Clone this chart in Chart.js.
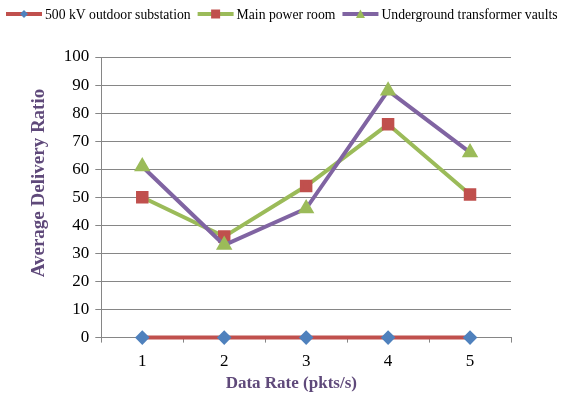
<!DOCTYPE html>
<html><head><meta charset="utf-8">
<script src="https://cdn.jsdelivr.net/npm/chart.js@4.4.1/dist/chart.umd.min.js"></script>
<style>html,body{margin:0;padding:0;background:#fff;}#wrap{width:561px;height:403px;}</style>
</head><body><div id="wrap"><canvas id="c" width="561" height="403"></canvas></div>
<script>
const categories = ['1','2','3','4','5'];
const seriesNames = ['500 kV outdoor substation','Main power room','Underground transformer vaults'];
const outdoor = [0,0,0,0,0];
const mainRoom = [50,36,54,76,51];
const underground = [61,33,46,88,66];
const yTicks = [0,10,20,30,40,50,60,70,80,90,100];
const xTitle = 'Data Rate (pkts/s)';
const yTitle = 'Average Delivery Ratio';

const red='#C0504D', blue='#4F81BD', green='#9BBB59', purple='#8064A2';
const markerShapes=['diamond','square','triangle'];

const legendPlugin={
  id:'excelLegend',
  afterDraw(chart){
    const g=chart.ctx;
    g.save();
    g.font='13.7px "Liberation Serif"';
    g.textBaseline='middle';
    g.fillStyle='#000';
    let x=6; const y=14;
    chart.data.datasets.forEach((d,i)=>{
      const lw=36;
      g.strokeStyle=d.borderColor; g.lineWidth=4;
      g.beginPath(); g.moveTo(x,y); g.lineTo(x+lw,y); g.stroke();
      const cx=x+lw/2;
      g.fillStyle=d.pointBackgroundColor;
      g.beginPath();
      const s=markerShapes[i];
      if(s==='diamond'){g.moveTo(cx,y-4);g.lineTo(cx+4,y);g.lineTo(cx,y+4);g.lineTo(cx-4,y);g.closePath();}
      else if(s==='square'){g.rect(cx-4.5,y-4.5,9,9);}
      else {g.moveTo(cx,y-4.5);g.lineTo(cx+4.5,y+4);g.lineTo(cx-4.5,y+4);g.closePath();}
      g.fill();
      g.fillStyle='#000';
      g.fillText(d.label,x+lw+3,y+1);
      x+=lw+3+g.measureText(d.label).width+7;
    });
    g.restore();
  }
};

new Chart(document.getElementById('c'),{
  type:'line',
  data:{labels:categories,datasets:[
    {label:seriesNames[0],data:outdoor,borderColor:red,backgroundColor:blue,pointBackgroundColor:blue,pointBorderColor:blue,pointStyle:'rectRot',pointRadius:4.5,borderWidth:4,order:1,clip:false},
    {label:seriesNames[1],data:mainRoom,borderColor:green,backgroundColor:red,pointBackgroundColor:red,pointBorderColor:red,pointStyle:'rect',pointRadius:6,borderWidth:4,order:3,clip:false},
    {label:seriesNames[2],data:underground,borderColor:purple,backgroundColor:green,pointBackgroundColor:green,pointBorderColor:green,pointStyle:'triangle',pointRadius:5.5,borderWidth:4,order:2,clip:false}
  ]},
  options:{
    responsive:false,animation:false,
    layout:{padding:{left:24,right:50,top:57,bottom:9}},
    plugins:{
      tooltip:{enabled:false},
      legend:{display:false}
    },
    scales:{
      x:{offset:true,
        grid:{offset:true,drawOnChartArea:false,drawTicks:true,tickLength:5,color:'#868686'},
        border:{color:'#868686'},
        ticks:{color:'#000',font:{family:'Liberation Serif',size:17,lineHeight:1.0},padding:10},
        title:{display:true,text:xTitle+'\u00a0\u00a0\u00a0\u00a0\u00a0\u00a0\u00a0',color:'#5F497A',font:{family:'Liberation Serif',size:17,weight:'bold'},padding:{top:-6,bottom:0}}
      },
      y:{min:0,max:100,
        afterBuildTicks:(ax)=>{ax.ticks=yTicks.map(v=>({value:v}));},
        grid:{color:'#868686',tickLength:6},
        border:{color:'#868686'},
        ticks:{color:'#000',font:{family:'Liberation Serif',size:17},padding:6},
        title:{display:true,text:'\u00a0\u00a0\u00a0\u00a0\u00a0\u00a0'+yTitle,color:'#5F497A',font:{family:'Liberation Serif',size:19,weight:'bold'},padding:{bottom:7}}
      }
    }
  },
  plugins:[legendPlugin]
});
</script></body></html>
